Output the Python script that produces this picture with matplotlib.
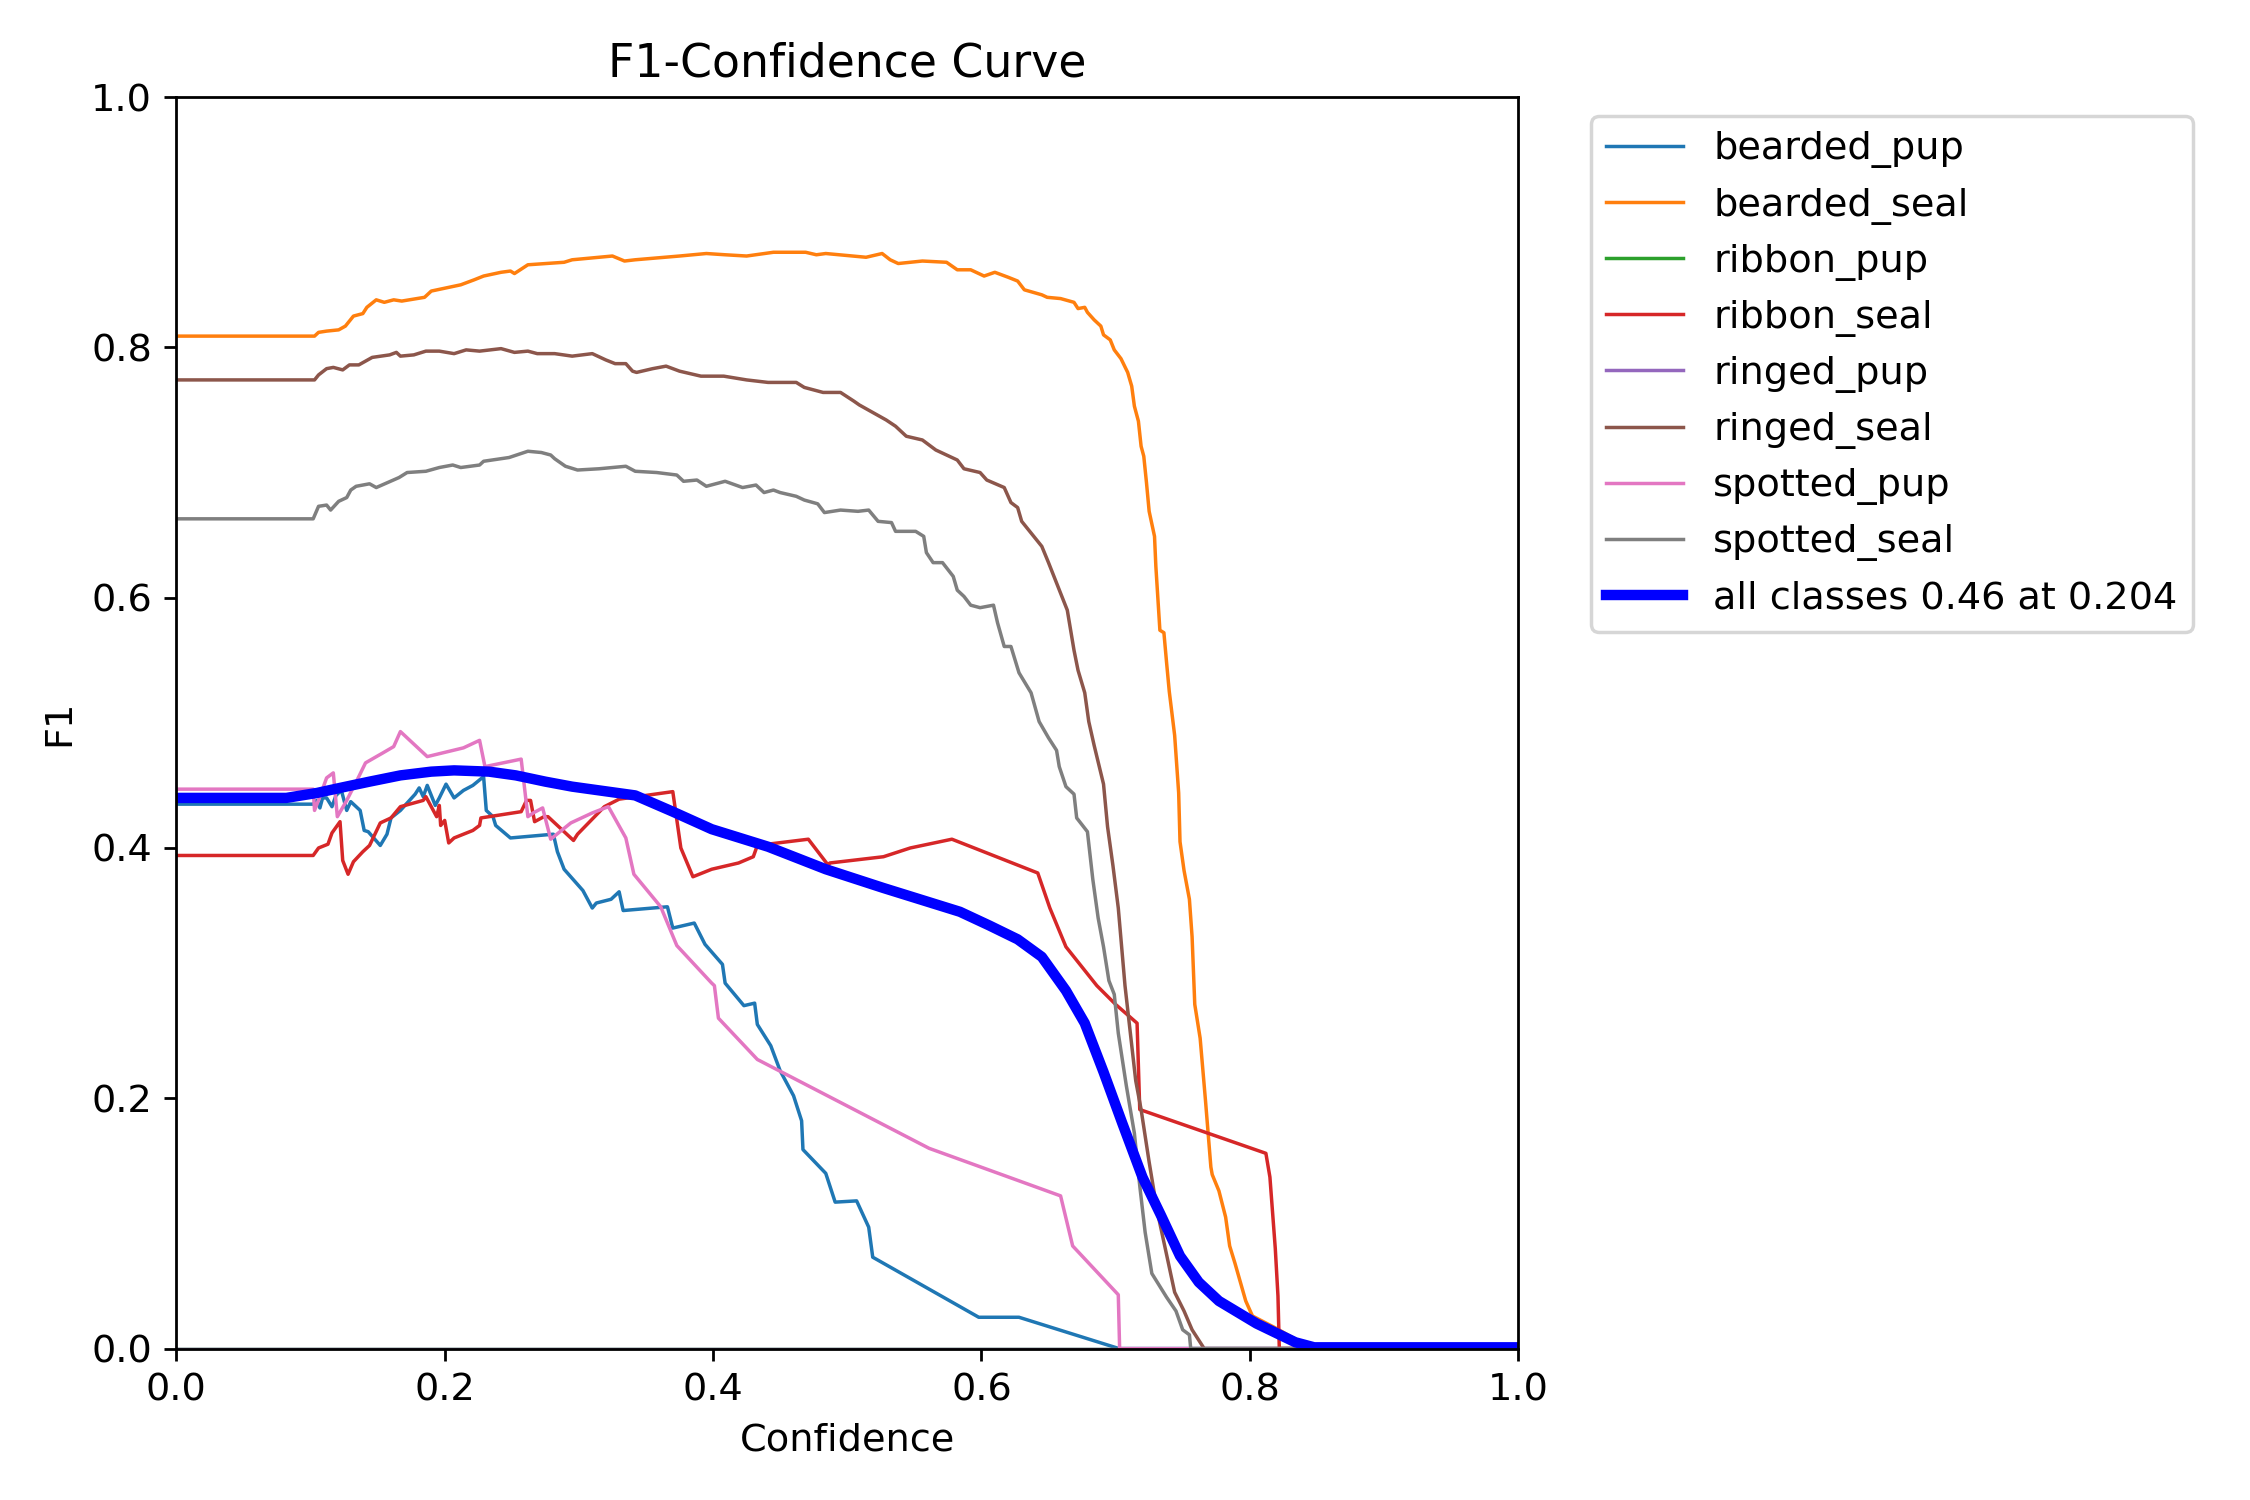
import matplotlib
matplotlib.use("Agg")
import matplotlib.pyplot as plt

plt.rcParams["font.size"] = 11

# class names in plotting order (default colour cycle C0..C7)
names = ["bearded_pup", "bearded_seal", "ribbon_pup", "ribbon_seal",
         "ringed_pup", "ringed_seal", "spotted_pup", "spotted_seal"]

# (confidence, F1) points
bearded_pup = [(0, 0.435), (0.102, 0.435), (0.1046, 0.438), (0.107, 0.432), (0.109, 0.440),
               (0.112, 0.440), (0.116, 0.433), (0.119, 0.442), (0.123, 0.446), (0.127, 0.430),
               (0.130, 0.437), (0.133, 0.434), (0.137, 0.430), (0.140, 0.414), (0.143, 0.413),
               (0.152, 0.402), (0.157, 0.411), (0.160, 0.424), (0.167, 0.430), (0.178, 0.443),
               (0.181, 0.448), (0.184, 0.441), (0.187, 0.450), (0.190, 0.442), (0.193, 0.434),
               (0.196, 0.440), (0.201, 0.451), (0.207, 0.440), (0.214, 0.446), (0.221, 0.450),
               (0.229, 0.457), (0.231, 0.430), (0.236, 0.425), (0.238, 0.418), (0.249, 0.408),
               (0.281, 0.411), (0.284, 0.397), (0.289, 0.383), (0.303, 0.366), (0.310, 0.352),
               (0.313, 0.356), (0.324, 0.359), (0.330, 0.365), (0.333, 0.350), (0.366, 0.353),
               (0.370, 0.336), (0.386, 0.340), (0.394, 0.323), (0.407, 0.307), (0.409, 0.292),
               (0.423, 0.274), (0.431, 0.276), (0.433, 0.259), (0.443, 0.242), (0.450, 0.222),
               (0.460, 0.202), (0.466, 0.182), (0.467, 0.159), (0.484, 0.140), (0.491, 0.117),
               (0.507, 0.118), (0.516, 0.097), (0.519, 0.073), (0.598, 0.025), (0.628, 0.025),
               (0.7025, 0.0), (1.0, 0.0)]

bearded_seal = [(0, 0.809), (0.103, 0.809), (0.106, 0.812), (0.112, 0.813), (0.121, 0.814),
                (0.126, 0.817), (0.132, 0.825), (0.139, 0.827), (0.142, 0.832), (0.149, 0.838),
                (0.155, 0.836), (0.162, 0.838), (0.168, 0.837), (0.185, 0.840), (0.190, 0.845),
                (0.212, 0.850), (0.222, 0.854), (0.229, 0.857), (0.242, 0.860), (0.249, 0.861),
                (0.252, 0.859), (0.262, 0.866), (0.289, 0.868), (0.295, 0.870), (0.325, 0.873),
                (0.334, 0.869), (0.342, 0.870), (0.375, 0.873), (0.395, 0.875), (0.409, 0.874),
                (0.425, 0.873), (0.445, 0.876), (0.469, 0.876), (0.477, 0.874), (0.484, 0.875),
                (0.514, 0.872), (0.526, 0.875), (0.532, 0.870), (0.538, 0.867), (0.556, 0.869),
                (0.574, 0.868), (0.582, 0.862), (0.592, 0.862), (0.602, 0.857), (0.610, 0.860),
                (0.620, 0.856), (0.627, 0.853), (0.632, 0.846), (0.645, 0.842), (0.649, 0.840),
                (0.659, 0.839), (0.669, 0.836), (0.672, 0.831), (0.677, 0.832), (0.679, 0.828),
                (0.684, 0.822), (0.689, 0.817), (0.691, 0.810), (0.696, 0.806), (0.699, 0.798),
                (0.704, 0.791), (0.709, 0.780), (0.712, 0.769), (0.714, 0.753), (0.717, 0.741),
                (0.719, 0.721), (0.721, 0.713), (0.723, 0.692), (0.725, 0.669), (0.729, 0.649),
                (0.730, 0.625), (0.733, 0.574), (0.736, 0.572), (0.738, 0.548), (0.740, 0.525),
                (0.744, 0.490), (0.747, 0.444), (0.748, 0.405), (0.751, 0.382), (0.755, 0.359),
                (0.757, 0.329), (0.759, 0.275), (0.763, 0.248), (0.767, 0.198), (0.771, 0.145),
                (0.772, 0.139), (0.777, 0.126), (0.782, 0.105), (0.785, 0.082), (0.789, 0.068),
                (0.797, 0.038), (0.802, 0.026), (0.820, 0.016), (0.838, 0.005), (0.848, 0.0),
                (1.0, 0.0)]

ribbon_pup = [(0, 0.0), (1.0, 0.0)]

ribbon_seal = [(0, 0.394), (0.102, 0.394), (0.106, 0.400), (0.113, 0.403), (0.116, 0.412),
               (0.122, 0.421), (0.124, 0.390), (0.128, 0.379), (0.132, 0.389), (0.139, 0.397),
               (0.144, 0.402), (0.152, 0.420), (0.160, 0.424), (0.167, 0.433), (0.184, 0.438),
               (0.186, 0.441), (0.194, 0.425), (0.196, 0.434), (0.197, 0.418), (0.200, 0.422),
               (0.203, 0.404), (0.207, 0.408), (0.221, 0.414), (0.226, 0.418), (0.227, 0.424),
               (0.257, 0.429), (0.261, 0.438), (0.264, 0.438), (0.267, 0.421), (0.274, 0.425),
               (0.277, 0.425), (0.296, 0.406), (0.299, 0.411), (0.319, 0.433), (0.330, 0.439),
               (0.370, 0.445), (0.376, 0.400), (0.385, 0.377), (0.399, 0.383), (0.419, 0.388),
               (0.430, 0.393), (0.433, 0.402), (0.471, 0.407), (0.486, 0.386), (0.487, 0.388),
               (0.527, 0.393), (0.547, 0.400), (0.578, 0.407), (0.642, 0.380), (0.651, 0.352),
               (0.663, 0.321), (0.686, 0.290), (0.700, 0.275), (0.716, 0.260), (0.718, 0.191),
               (0.812, 0.156), (0.815, 0.137), (0.819, 0.080), (0.821, 0.042), (0.822, 0.0),
               (1.0, 0.0)]

ringed_pup = [(0, 0.0), (1.0, 0.0)]

ringed_seal = [(0, 0.774), (0.103, 0.774), (0.106, 0.778), (0.112, 0.783), (0.117, 0.784),
               (0.124, 0.782), (0.129, 0.786), (0.136, 0.786), (0.146, 0.792), (0.159, 0.794),
               (0.164, 0.796), (0.167, 0.793), (0.177, 0.794), (0.186, 0.797), (0.196, 0.797),
               (0.207, 0.795), (0.216, 0.798), (0.226, 0.797), (0.242, 0.799), (0.252, 0.796),
               (0.262, 0.797), (0.269, 0.795), (0.282, 0.795), (0.295, 0.793), (0.310, 0.795),
               (0.320, 0.790), (0.327, 0.787), (0.335, 0.787), (0.340, 0.781), (0.343, 0.780),
               (0.355, 0.783), (0.365, 0.785), (0.375, 0.781), (0.391, 0.777), (0.408, 0.777),
               (0.425, 0.774), (0.441, 0.772), (0.462, 0.772), (0.468, 0.768), (0.482, 0.764),
               (0.495, 0.764), (0.505, 0.757), (0.509, 0.754), (0.519, 0.748), (0.529, 0.742),
               (0.536, 0.737), (0.544, 0.729), (0.556, 0.726), (0.566, 0.718), (0.576, 0.713),
               (0.582, 0.710), (0.587, 0.703), (0.599, 0.700), (0.604, 0.694), (0.617, 0.688),
               (0.622, 0.676), (0.627, 0.672), (0.630, 0.661), (0.639, 0.649), (0.645, 0.641),
               (0.650, 0.628), (0.657, 0.609), (0.664, 0.590), (0.669, 0.558), (0.672, 0.542),
               (0.677, 0.524), (0.680, 0.501), (0.684, 0.482), (0.691, 0.451), (0.694, 0.417),
               (0.698, 0.386), (0.702, 0.352), (0.707, 0.290), (0.711, 0.252), (0.715, 0.214),
               (0.719, 0.191), (0.725, 0.149), (0.731, 0.110), (0.737, 0.080), (0.744, 0.045),
               (0.751, 0.030), (0.757, 0.015), (0.766, 0.0), (1.0, 0.0)]

spotted_pup = [(0, 0.447), (0.102, 0.447), (0.103, 0.430), (0.107, 0.441), (0.112, 0.456),
               (0.117, 0.460), (0.120, 0.425), (0.127, 0.438), (0.136, 0.457), (0.141, 0.468),
               (0.154, 0.476), (0.162, 0.481), (0.167, 0.493), (0.187, 0.473), (0.214, 0.480),
               (0.226, 0.486), (0.230, 0.465), (0.257, 0.471), (0.262, 0.425), (0.266, 0.428),
               (0.273, 0.432), (0.279, 0.407), (0.294, 0.420), (0.310, 0.428), (0.322, 0.433),
               (0.335, 0.408), (0.341, 0.379), (0.361, 0.353), (0.373, 0.322), (0.399, 0.292),
               (0.401, 0.290), (0.404, 0.264), (0.433, 0.231), (0.561, 0.160), (0.659, 0.122),
               (0.668, 0.082), (0.702, 0.043), (0.703, 0.0), (1.0, 0.0)]

spotted_seal = [(0, 0.663), (0.102, 0.663), (0.106, 0.673), (0.112, 0.674), (0.115, 0.670),
                (0.121, 0.677), (0.127, 0.680), (0.130, 0.686), (0.134, 0.689), (0.144, 0.691),
                (0.149, 0.688), (0.166, 0.696), (0.172, 0.700), (0.186, 0.701), (0.196, 0.704),
                (0.206, 0.706), (0.212, 0.704), (0.226, 0.706), (0.229, 0.709), (0.248, 0.712),
                (0.262, 0.717), (0.272, 0.716), (0.279, 0.714), (0.282, 0.711), (0.290, 0.705),
                (0.299, 0.702), (0.315, 0.703), (0.335, 0.705), (0.342, 0.701), (0.358, 0.700),
                (0.373, 0.698), (0.378, 0.693), (0.388, 0.694), (0.395, 0.689), (0.409, 0.693),
                (0.422, 0.688), (0.432, 0.690), (0.438, 0.684), (0.445, 0.686), (0.450, 0.684),
                (0.462, 0.681), (0.468, 0.678), (0.478, 0.675), (0.483, 0.668), (0.495, 0.670),
                (0.508, 0.669), (0.516, 0.670), (0.523, 0.661), (0.533, 0.660), (0.536, 0.653),
                (0.551, 0.653), (0.557, 0.649), (0.559, 0.636), (0.564, 0.628), (0.571, 0.628),
                (0.579, 0.617), (0.582, 0.606), (0.587, 0.601), (0.592, 0.594), (0.599, 0.592),
                (0.609, 0.594), (0.612, 0.580), (0.617, 0.561), (0.622, 0.561), (0.628, 0.540),
                (0.637, 0.524), (0.643, 0.501), (0.650, 0.488), (0.656, 0.478), (0.658, 0.465),
                (0.663, 0.449), (0.669, 0.443), (0.671, 0.424), (0.679, 0.413), (0.683, 0.375),
                (0.687, 0.344), (0.691, 0.321), (0.695, 0.294), (0.699, 0.283), (0.702, 0.252),
                (0.708, 0.210), (0.714, 0.172), (0.718, 0.130), (0.722, 0.093), (0.727, 0.060),
                (0.738, 0.041), (0.745, 0.030), (0.750, 0.015), (0.755, 0.011), (0.756, 0.0),
                (1.0, 0.0)]

# mean over all classes (smoothed)
all_classes = [(0, 0.440), (0.082, 0.440), (0.105, 0.444), (0.122, 0.448), (0.144, 0.453),
               (0.167, 0.458), (0.190, 0.461), (0.207, 0.462), (0.233, 0.461), (0.253, 0.458),
               (0.275, 0.453), (0.295, 0.449), (0.342, 0.442), (0.370, 0.429), (0.399, 0.415),
               (0.441, 0.401), (0.484, 0.383), (0.527, 0.368), (0.584, 0.349), (0.606, 0.338),
               (0.627, 0.327), (0.645, 0.313), (0.663, 0.286), (0.677, 0.260), (0.691, 0.221),
               (0.705, 0.180), (0.720, 0.137), (0.734, 0.106), (0.748, 0.074), (0.762, 0.053),
               (0.777, 0.038), (0.805, 0.020), (0.834, 0.005), (0.848, 0.001), (1.0, 0.001)]
all_label = "all classes 0.46 at 0.204"

curves = [bearded_pup, bearded_seal, ribbon_pup, ribbon_seal,
          ringed_pup, ringed_seal, spotted_pup, spotted_seal]

fig, ax = plt.subplots(1, 1, figsize=(9, 6), tight_layout=True)

for name, pts in zip(names, curves):
    xs, ys = zip(*pts)
    ax.plot(xs, ys, linewidth=1, label=name)

xs, ys = zip(*all_classes)
ax.plot(xs, ys, linewidth=3, color="blue", label=all_label)

ax.set_xlabel("Confidence")
ax.set_ylabel("F1")
ax.set_xlim(0, 1)
ax.set_ylim(0, 1)
ax.legend(bbox_to_anchor=(1.04, 1), loc="upper left")
ax.set_title("F1-Confidence Curve")

fig.savefig("out.png", dpi=250)
